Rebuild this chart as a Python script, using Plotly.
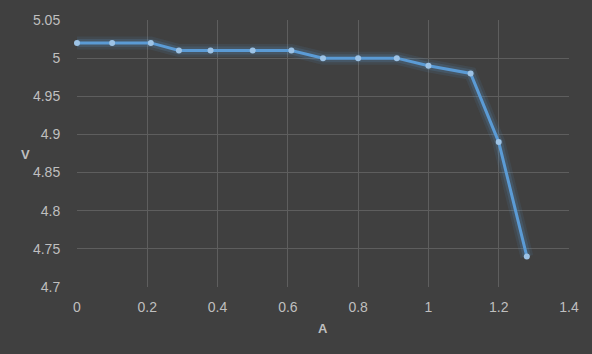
import plotly.graph_objects as go

current_a = [0, 0.1, 0.21, 0.29, 0.38, 0.5, 0.61, 0.7, 0.8, 0.91, 1.0, 1.12, 1.2, 1.28]
voltage_v = [5.02, 5.02, 5.02, 5.01, 5.01, 5.01, 5.01, 5.00, 5.00, 5.00, 4.99, 4.98, 4.89, 4.74]
x_ticks = [0, 0.2, 0.4, 0.6, 0.8, 1, 1.2, 1.4]
y_ticks = [4.7, 4.75, 4.8, 4.85, 4.9, 4.95, 5, 5.05]

fig = go.Figure()
# glow layers
for w, a in [(13, 0.10), (8, 0.18)]:
    fig.add_trace(go.Scatter(x=current_a, y=voltage_v, mode="lines",
                             line=dict(color=f"rgba(91,155,213,{a})", width=w),
                             hoverinfo="skip", showlegend=False))
fig.add_trace(go.Scatter(x=current_a, y=voltage_v, mode="lines+markers",
                         line=dict(color="#5b9bd5", width=3),
                         marker=dict(size=6, color="#9dc3e6", line=dict(width=0)),
                         showlegend=False, cliponaxis=False))

font_fam = "Liberation Sans, Arial, sans-serif"
axis_common = dict(showgrid=True, gridcolor="#5e5e5e", gridwidth=1, zeroline=False,
                   showline=False, ticks="outside", tickcolor="rgba(0,0,0,0)",
                   tickfont=dict(color="#bfbfbf", size=14, family=font_fam))
fig.update_xaxes(range=[0, 1.4], tickvals=x_ticks, ticktext=[str(t) for t in x_ticks],
                 ticklen=7, **axis_common)
fig.update_yaxes(range=[4.7, 5.05], tickvals=y_ticks, ticktext=[("%g" % t) for t in y_ticks],
                 ticklen=13, **axis_common)
fig.add_annotation(xref="paper", yref="paper", x=(25 - 77) / 492, y=(287 - 153) / 270,
                   xanchor="center", yanchor="middle", text="<b>V</b>", showarrow=False,
                   font=dict(color="#bfbfbf", size=13, family=font_fam))
fig.add_annotation(xref="paper", yref="paper", x=(323 - 77) / 492, y=(287 - 329) / 270,
                   xanchor="center", yanchor="middle", text="<b>A</b>", showarrow=False,
                   font=dict(color="#bfbfbf", size=13, family=font_fam))
fig.update_layout(width=592, height=354, paper_bgcolor="#404040", plot_bgcolor="#404040",
                  margin=dict(l=77, r=23, t=17, b=67),
                  font=dict(family=font_fam, color="#bfbfbf"))
fig.write_html("out.html")
